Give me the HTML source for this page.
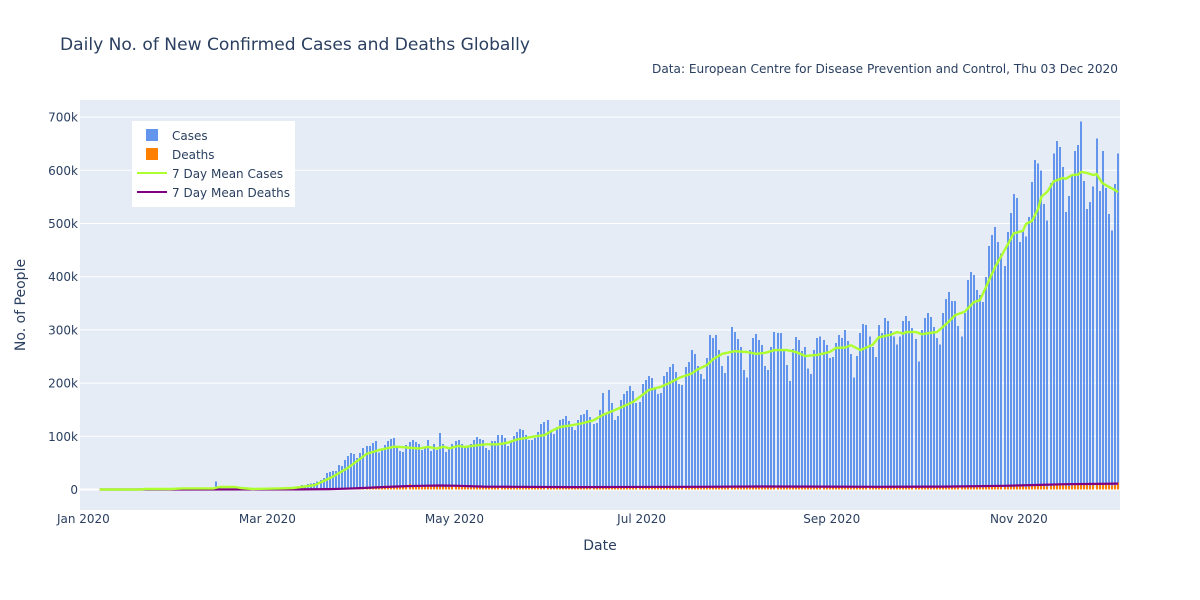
<!DOCTYPE html>
<html lang="en">
<head>
<meta charset="utf-8">
<title>Daily No. of New Confirmed Cases and Deaths Globally</title>
<style>
html,body{margin:0;padding:0;background:#fff;}
svg{display:block;}
text{font-family:"DejaVu Sans","Liberation Sans",sans-serif;fill:#2a3f5f;}
</style>
</head>
<body>
<svg id="chart" xmlns="http://www.w3.org/2000/svg" width="1200" height="600" viewBox="0 0 1200 600">
  <rect x="80" y="100" width="1040" height="410" fill="#E5ECF6"></rect>
  <g id="grid"></g>
  <g id="bars-cases"></g>
  <g id="bars-deaths"></g>
  <g id="lines"></g>
  <g id="y-ticks"></g>
  <g id="x-ticks"></g>
  <text x="60" y="50" font-size="17" textLength="470" lengthAdjust="spacingAndGlyphs">Daily No. of New Confirmed Cases and Deaths Globally</text>
  <text x="652" y="73" font-size="12" textLength="466" lengthAdjust="spacingAndGlyphs">Data: European Centre for Disease Prevention and Control, Thu 03 Dec 2020</text>
  <text x="600" y="550" font-size="14" text-anchor="middle">Date</text>
  <text transform="translate(25,305) rotate(-90)" font-size="14" text-anchor="middle">No. of People</text>
  <g>
    <rect x="132" y="121" width="163" height="86" fill="#fff"></rect>
    <rect x="146" y="129" width="12" height="12" fill="#6495ED"></rect>
    <text x="172" y="140" font-size="12">Cases</text>
    <rect x="146" y="148" width="12" height="12" fill="#FF8000"></rect>
    <text x="172" y="159" font-size="12">Deaths</text>
    <line x1="137" x2="167" y1="173" y2="173" stroke="#ADFF2F" stroke-width="2"></line>
    <text x="172" y="178" font-size="12">7 Day Mean Cases</text>
    <line x1="137" x2="167" y1="192" y2="192" stroke="#800080" stroke-width="2"></line>
    <text x="172" y="197" font-size="12">7 Day Mean Deaths</text>
  </g>
</svg>
<script>
// Day numbers count from 1 Jan 2020 = 0.
var firstBarDay = 5;
// Daily new cases in thousands, one value per day from firstBarDay.
var casesK = [
0,0,0,0,0,0,0,0,0,0,0,0,0,0,0,
0.1,0.15,0.1,0.3,0.5,0.7,0.8,1.4,1.7,2,2,2.6,2.8,3.2,3.9,3.7,3.2,3.4,2.6,2.9,2.6,2.1,2,15.1,6.5,2.2,2,2,1.8,1.9,0.6,0.9,0.4,0.9,1,0.3,0.9,1.1,1.3,1.9,1.7,2,1.7,2.3,2.3,2.8,3.9,3.7,4.1,3.7,4.7,
8,5,10,11.6,12,15,18,22,31,33,35,35,46,44,55,63,68.6,67,59,69,78,82,82,87,91,70,
74,84,91,95,97,78,72,70.5,84,89,
93,89,85.5,74,78,93,72,85.5,74,106,
85.5,70.5,76,85.5,91,93,85.5,78,80,85.5,
93,99,95,93,78,74,91,91,102,102,
97,82,89,100.5,108,114,112,102,93,93,
97,108,123,127,131,108,104,117.5,131,132.5,
138,129,117.5,112,131,140,142,149.5,136,123,
125,149.5,181,144,187,163,131,138,168,179.5,
185,195,185,163,164.5,198,206,213,209.5,193,
179.5,181,213,221,230,236,221,198,
196,230,240,262,255,232,217,208,247,290,285,290,262,232,219,251,305,296,283,268,225,211,262,285,292,281,272,232,225,268,296,294,294,262,234,204,264,287,281,260,268,227,217,262,285,288,281,272,247,249,275,290,285,300,279,255,211,251,294,311,309,288,268,249,309,294,322,317,298,288,273,288,317,326,317,304,283,241,300,322,332,324,305,285,273,332,
358,371,354,354,307,288,332,394,409,403,375,366,352,399,458,478,493,465,444,420,484,520,555,548,465,488,476,512,578,619,613,600,537,506,576,632,655,644,606,522,552,591,636,648,692,580,527,540,570,660,561,636,567,518,487,574,632
];
// Daily new deaths in thousands, one value per day from firstBarDay.
var deathsK = [
0,0,0,0,0,0,0,0,0,0,0,0,0,0,0,0,0,0,0,0,0,0,0,0,0,0,
0.05,0.05,0.05,0.05,0.05,0.05,0.05,0.1,0.1,0.1,0.1,0.1,0.1,0.1,0.1,0.1,0.1,0.1,0.1,0.1,0.1,0.1,0.1,0.1,0.1,0.1,0.1,0.1,0.1,
0.1,0.1,0.1,0.1,0.1,0.1,0.2,0.1,0.2,0.2,0.3,
0.3,0.4,0.5,0.4,0.7,0.6,0.8,1,1,1.2,1.5,1.7,2,2.4,2.6,2.9,3.3,3.5,3.4,3,3.8,4.6,5.1,6,6.3,5.9,
5,7.5,6.8,7.3,7.2,6.4,6.2,
5.5,5.4,10.2,7.9,8.4,6.8,5.7,
5,6.2,7.2,7.4,6.8,6.3,6.1,
4.5,4.7,6.7,6.6,6.1,5.7,5.2,
3.7,3.9,6.1,6.3,5.7,5.4,4.6,
3.4,3.8,5.4,5.4,5.1,5.0,4.4,
3.3,3.6,5.2,5.1,4.9,4.6,4.1,
3.0,3.4,5.0,4.9,4.6,4.3,3.9,
3.1,3.5,5.1,5.0,4.8,4.5,4.2,
3.0,3.3,4.9,5.1,4.6,4.4,4.0,
3.2,3.4,5.0,5.2,4.7,4.5,4.1,
3.2,3.5,5.2,5.1,4.9,4.6,4.2,
3.3,3.6,5.3,5.2,5.0,4.8,4.3,
3.4,3.8,5.5,5.4,5.2,4.9,4.5,
3.7,4.0,5.8,5.7,5.6,5.2,4.8,
3.8,4.3,6.1,6.0,5.9,5.5,5.0,
4.0,4.5,6.4,6.3,6.4,5.8,5.1,
4.1,4.6,6.6,6.5,6.3,5.8,5.2,
4.1,4.7,6.7,6.4,6.2,5.7,5.1,
4.0,4.5,6.3,6.2,6.0,5.6,5.0,
3.9,4.4,6.2,6.1,5.9,5.4,4.9,
3.8,4.2,6.0,5.9,5.8,5.4,4.8,
3.7,4.2,5.9,5.8,5.7,5.3,4.8,
3.6,4.1,5.8,5.7,5.6,5.2,4.6,
3.5,4.0,5.7,5.6,5.5,5.1,4.5,
3.5,3.9,5.6,5.5,5.5,5.1,4.5,
3.5,4.0,5.6,5.6,5.5,5.2,4.6,
3.7,4.1,5.8,5.8,5.7,5.3,4.7,
3.9,4.4,6.2,6.2,6.0,5.6,5.0,
4.3,4.8,6.8,6.8,6.7,6.2,5.6,
4.9,5.5,7.7,7.8,7.7,7.1,6.3,
5.6,6.4,9.2,9.4,9.3,8.7,7.6,
6.8,7.6,10.8,10.9,10.9,10.3,9.1,
7.6,8.4,11.8,12.0,12.6,10.8,9.4,
7.7,8.6,12.7
];
var meanCaseDays = [5,18,20,28,32,42,44,49,51,55,64,68,75,78,81,86,89,92,96,101,103,109,112,115,117,119,122,124,128,131,135,138,141,144,147,150,152,155,158,162,166,169,173,176,179,182,184,188,191,194,198,200,203,205,208,212,216,219,222,225,229,232,235,239,243,245,248,250,253,257,259,263,265,267,268,271,273,278,281,284,287,290,292,294,297,301,303,306,307,309,311,312,314,316,319,320,322,324,325,327,329,330,332,334,336,337];
var meanCasesK = [0,0,1,1,2,2,4.7,4.7,2.8,1,2,2.8,8,16,24,41,54,67,74,80.5,80,77,80,77,80.5,77.4,82,80,83,85,85,88,94,97,100,102,109,117.5,120,124,130,140,149.5,157,165,178,187,193,201,210,218,226,234,245,255,260,258.5,255,257,262,262,258.5,251,253,258.5,266,267,271,262,272,286,291,296,293,296,296,292,296,311,328,334,352,356,381,419,460,481.5,486,499,505,528,550,560,579,585.5,584,591,592,597,595,591,593,575.5,569,563,559];
var meanDeathDays = [5,60,70,80,85,90,97,105,110,116,122,130,140,160,200,220,240,260,280,300,310,320,330,337];
var meanDeathsK = [0,0.1,0.2,0.8,1.5,2.7,4.5,6.3,7,7.6,7,5.5,5,4.5,5,5.7,5.5,5,5.5,7,8.5,10,10.5,11];
var yTickValues = [0,100,200,300,400,500,600,700];
var yTickLabels = ["0","100k","200k","300k","400k","500k","600k","700k"];
var xTickDays = [0,60,121,182,244,305];
var xTickLabels = ["Jan 2020","Mar 2020","May 2020","Jul 2020","Sep 2020","Nov 2020"];

var SVG_NS = "http://www.w3.org/2000/svg";
function xAxis(day){ return 84.4 + 3.067 * day; }
function yAxis(k){ return 489.5 - 0.532 * k; }
function make(tag, attrs){
  var el = document.createElementNS(SVG_NS, tag);
  for (var key in attrs) { el.setAttribute(key, attrs[key]); }
  return el;
}
function drawBars(values, parent, color, name){
  for (var i = 0; i < values.length; i++) {
    var c = xAxis(firstBarDay + i);
    var x0 = Math.round(c - 1);
    var top = yAxis(values[i]);
    var base = yAxis(0);
    if (values[i] <= 0) { continue; }
    var bar = make("rect", {x: x0, y: top.toFixed(2), width: 2, height: Math.max(base - top, 0.3).toFixed(2), fill: color, "shape-rendering": "crispEdges"});
    
    
    parent.appendChild(bar);
  }
}
function drawLine(days, values, color, width, name){
  var pts = [];
  for (var i = 0; i < days.length; i++) {
    pts.push(xAxis(days[i]).toFixed(1) + "," + yAxis(values[i]).toFixed(1));
  }
  var line = make("polyline", {points: pts.join(" "), fill: "none", stroke: color, "stroke-width": width, "stroke-linejoin": "round"});
  
  
  document.getElementById("lines").appendChild(line);
}
var gridGroup = document.getElementById("grid");
var yTickGroup = document.getElementById("y-ticks");
yTickValues.forEach(function(v, i){
  var y = yAxis(v);
  var rule = make("line", {x1: 80, x2: 1120, y1: y, y2: y, stroke: "#fff", "stroke-width": v === 0 ? 2 : 1});
  
  
  gridGroup.appendChild(rule);
  var label = make("text", {x: 78, y: y + 4.5, "font-size": 12, "text-anchor": "end"});
  label.textContent = yTickLabels[i];
  
  
  yTickGroup.appendChild(label);
});
var xTickGroup = document.getElementById("x-ticks");
xTickDays.forEach(function(d, i){
  var label = make("text", {x: xAxis(d) - 1, y: 523, "font-size": 12, "text-anchor": "middle"});
  label.textContent = xTickLabels[i];
  
  
  xTickGroup.appendChild(label);
});
drawBars(casesK, document.getElementById("bars-cases"), "#6495ED", "cases-bar");
drawBars(deathsK, document.getElementById("bars-deaths"), "#FF8000", "deaths-bar");
drawLine(meanDeathDays, meanDeathsK, "#800080", 2.2, "mean-deaths-line");
drawLine(meanCaseDays, meanCasesK, "#ADFF2F", 2.4, "mean-cases-line");
</script>
</body>
</html>
